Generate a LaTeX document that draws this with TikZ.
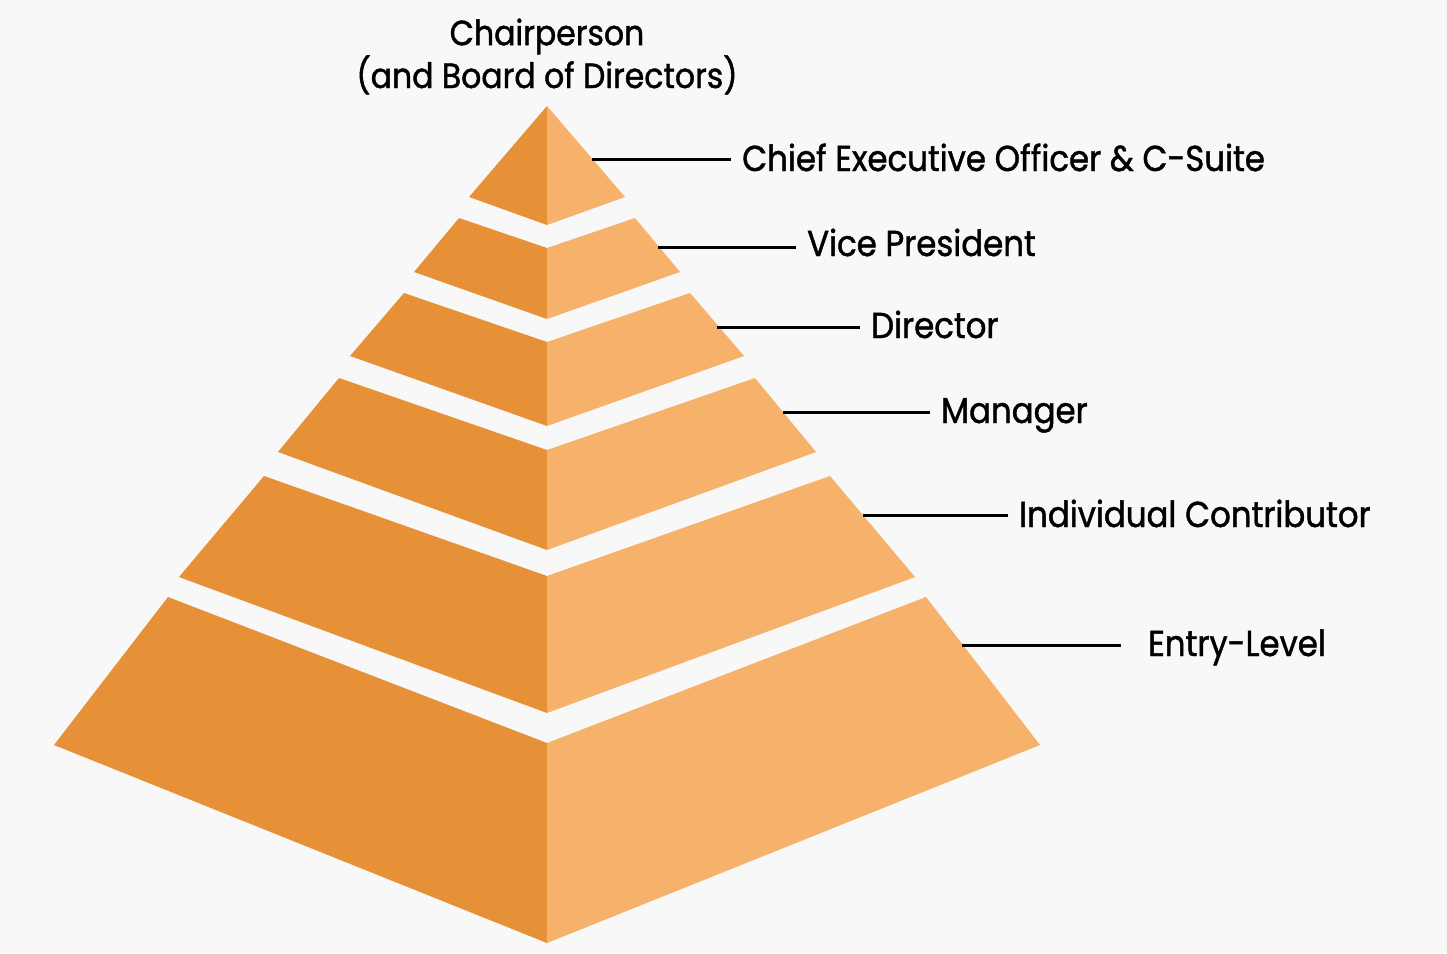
\documentclass[tikz,border=0pt]{standalone}
\usepackage{fontspec}
\usepackage{tikz}
\usetikzlibrary{positioning}
\newfontfamily\labelfont[FakeStretch=0.9, FakeBold=1.2]{Poppins}
\definecolor{bgcol}{HTML}{F8F8F8}
\definecolor{darkside}{HTML}{E69138}
\definecolor{lightside}{HTML}{F6B26B}

\begin{document}
\begin{tikzpicture}[x=1pt, y=-1pt,
  lbl/.style={anchor=base west, inner xsep=11pt, inner ysep=0pt, font=\labelfont\fontsize{36}{40}\selectfont},
  lead/.style={line width=3pt, black}]
\fill[bgcol] (0,0) rectangle (1447,953);
\useasboundingbox (0,0) rectangle (1447,953);

% left faces
\fill[darkside] (547,106) -- (469,197) -- (547,225) -- cycle;
\fill[darkside] (547,248) -- (459,218) -- (414,272) -- (547,319) -- cycle;
\fill[darkside] (547,342) -- (404,293) -- (350,356) -- (547,426) -- cycle;
\fill[darkside] (547,450) -- (339,378) -- (278,452) -- (547,550) -- cycle;
\fill[darkside] (547,576) -- (264,476) -- (179,577) -- (547,713) -- cycle;
\fill[darkside] (547,743) -- (168,597) -- (54,745) -- (547,943) -- cycle;

% right faces
\fill[lightside] (547,106) -- (625,197) -- (547,225) -- cycle;
\fill[lightside] (547,248) -- (635,218) -- (680,272) -- (547,319) -- cycle;
\fill[lightside] (547,342) -- (690,293) -- (744,356) -- (547,426) -- cycle;
\fill[lightside] (547,450) -- (755,378) -- (816,452) -- (547,550) -- cycle;
\fill[lightside] (547,576) -- (830,476) -- (915,577) -- (547,713) -- cycle;
\fill[lightside] (547,743) -- (926,597) -- (1040,745) -- (547,943) -- cycle;

% title
\node (chair) [anchor=base, align=center, inner sep=0pt,
  font=\labelfont\fontsize{35}{41}\selectfont] at (547,88)
  {Chairperson\\(and Board of Directors)};

% labels
\node (ceo) [lbl] at (731,171) {Chief Executive Officer \& C-Suite};
\node (vp) [lbl] at (796,256) {Vice President};
\node (dir) [lbl] at (860,338) {Director};
\node (mgr) [lbl] at (930,423) {Manager};
\node (ic) [lbl] at (1008,527) {Individual Contributor};
\node (entry) [lbl, inner xsep=27pt] at (1121,656) {Entry-Level};

% leader points on the pyramid
\coordinate (p1) at (592,159);
\coordinate (p2) at (658,247);
\coordinate (p3) at (717,327);
\coordinate (p4) at (783,412);
\coordinate (p5) at (863,515);
\coordinate (p6) at (962,645);

\draw[lead] (p1) -- (p1 -| ceo.west);
\draw[lead] (p2) -- (p2 -| vp.west);
\draw[lead] (p3) -- (p3 -| dir.west);
\draw[lead] (p4) -- (p4 -| mgr.west);
\draw[lead] (p5) -- (p5 -| ic.west);
\draw[lead] (p6) -- (p6 -| entry.west);
\end{tikzpicture}
\end{document}
